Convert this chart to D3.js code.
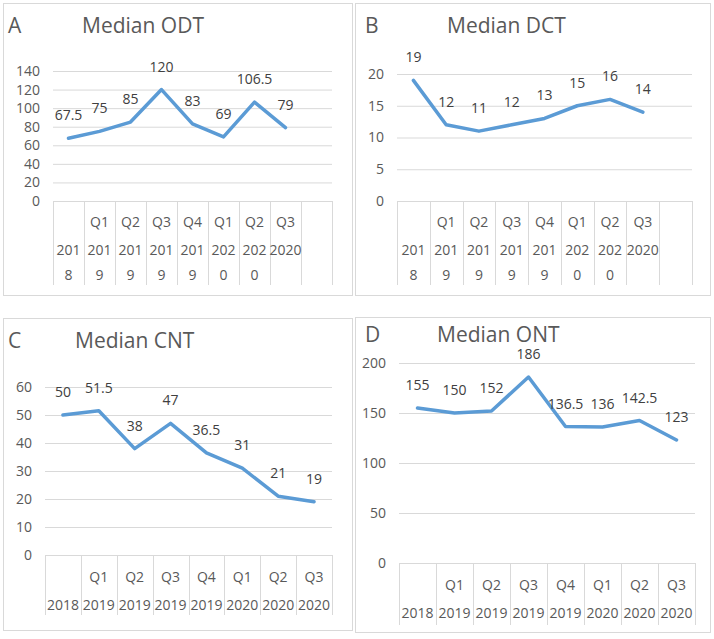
<!DOCTYPE html>
<html>
<head>
<meta charset="utf-8">
<script src="https://cdn.jsdelivr.net/npm/d3@7"></script>
<style>
  body { margin: 0; background: #fff; }
  svg text { font-family: "Open Sans", "Liberation Sans", sans-serif; }
</style>
</head>
<body>
<svg id="chart"></svg>
<script>
// category labels (two-level axis)
const quarters = ["", "Q1", "Q2", "Q3", "Q4", "Q1", "Q2", "Q3"];
const years = ["2018", "2019", "2019", "2019", "2019", "2020", "2020", "2020"];

// series values
const odt = [67.5, 75, 85, 120, 83, 69, 106.5, 79];
const dct = [19, 12, 11, 12, 13, 15, 16, 14];
const cnt = [50, 51.5, 38, 47, 36.5, 31, 21, 19];
const ont = [155, 150, 152, 186, 136.5, 136, 142.5, 123];

// y tick values
const odtTicks = [0, 20, 40, 60, 80, 100, 120, 140];
const dctTicks = [0, 5, 10, 15, 20];
const cntTicks = [0, 10, 20, 30, 40, 50, 60];
const ontTicks = [0, 50, 100, 150, 200];

const panels = [
  { letter: "A", title: "Median ODT", values: odt, ticks: odtTicks, bands: 9, wrap: true,
    box: {x: 3, y: 3, w: 349, h: 292}, plot: {left: 53, right: 332, top: 71, bottom: 201},
    titleY: 33, letterX: 8, titleX: 82, qY: 227, yearY: 255, sepBottom: 285 },
  { letter: "B", title: "Median DCT", values: dct, ticks: dctTicks, bands: 9, wrap: true,
    box: {x: 355, y: 3, w: 355, h: 292}, plot: {left: 397, right: 692, top: 74, bottom: 201},
    titleY: 33, letterX: 365, titleX: 447, qY: 227, yearY: 255, sepBottom: 285 },
  { letter: "C", title: "Median CNT", values: cnt, ticks: cntTicks, bands: 8, wrap: false,
    box: {x: 3, y: 318, w: 349, h: 312}, plot: {left: 45, right: 332, top: 387, bottom: 555},
    titleY: 348, letterX: 8, titleX: 75, qY: 582, yearY: 610, sepBottom: 615 },
  { letter: "D", title: "Median ONT", values: ont, ticks: ontTicks, bands: 8, wrap: false,
    box: {x: 355, y: 317, w: 355, h: 315}, plot: {left: 399, right: 695, top: 363, bottom: 563},
    titleY: 342, letterX: 365, titleX: 437, qY: 590, yearY: 618, sepBottom: 625 }
];

const svg = d3.select("#chart").attr("width", 714).attr("height", 639);

panels.forEach(p => {
  const g = svg.append("g");

  g.append("rect")
    .attr("x", p.box.x + 0.5).attr("y", p.box.y + 0.5)
    .attr("width", p.box.w).attr("height", p.box.h)
    .attr("fill", "#fff").attr("stroke", "#d9d9d9");

  g.append("text")
    .attr("x", p.letterX).attr("y", p.titleY)
    .attr("font-size", 21).attr("fill", "#595959")
    .text(p.letter);
  g.append("text")
    .attr("x", p.titleX).attr("y", p.titleY)
    .attr("font-size", 21).attr("fill", "#595959")
    .text(p.title);

  const idx = d3.range(p.bands);
  const x = d3.scaleBand().domain(idx).range([p.plot.left, p.plot.right]);
  const y = d3.scaleLinear().domain([0, d3.max(p.ticks)]).range([p.plot.bottom, p.plot.top]);
  const bw = x.bandwidth();

  // gridlines + y labels
  const yaxis = d3.axisLeft(y).tickValues(p.ticks).tickSize(-(p.plot.right - p.plot.left)).tickPadding(13);
  const ag = g.append("g")
    .attr("transform", `translate(${p.plot.left},0)`)
    .call(yaxis);
  ag.select(".domain").remove();
  ag.selectAll(".tick line").attr("stroke", "#d9d9d9");
  ag.selectAll(".tick text")
    .attr("font-size", 14).attr("fill", "#595959")
    .attr("font-family", '"Open Sans", sans-serif');

  // category separators
  const edges = idx.map(i => x(i)).concat([p.plot.right]);
  g.selectAll(".sep").data(edges).join("line")
    .attr("x1", d => Math.round(d) + 0.5).attr("x2", d => Math.round(d) + 0.5)
    .attr("y1", p.plot.bottom).attr("y2", p.sepBottom)
    .attr("stroke", "#d9d9d9");

  // category labels
  g.selectAll(".q").data(quarters).join("text")
    .attr("x", (d, i) => x(i) + bw / 2).attr("y", p.qY)
    .attr("text-anchor", "middle").attr("font-size", 14).attr("fill", "#595959")
    .text(d => d);

  g.selectAll(".yr").data(years).join("text")
    .attr("text-anchor", "middle").attr("font-size", 14).attr("fill", "#595959")
    .each(function(d, i) {
      const t = d3.select(this);
      const lines = (p.wrap && i < years.length - 1) ? [d.slice(0, 3), d.slice(3)] : [d];
      lines.forEach((s, k) => {
        t.append("tspan")
          .attr("x", x(i) + bw / 2)
          .attr("y", p.yearY + k * 25)
          .text(s);
      });
    });

  // line
  const line = d3.line()
    .x((d, i) => x(i) + bw / 2)
    .y(d => y(d));
  g.append("path")
    .attr("d", line(p.values))
    .attr("fill", "none")
    .attr("stroke", "#5b9bd5")
    .attr("stroke-width", 3.5)
    .attr("stroke-linejoin", "round")
    .attr("stroke-linecap", "round");

  // data labels
  g.selectAll(".lbl").data(p.values).join("text")
    .attr("x", (d, i) => x(i) + bw / 2)
    .attr("y", d => y(d) - 18)
    .attr("text-anchor", "middle").attr("font-size", 14).attr("fill", "#404040")
    .text(d => d);
});
</script>
</body>
</html>
